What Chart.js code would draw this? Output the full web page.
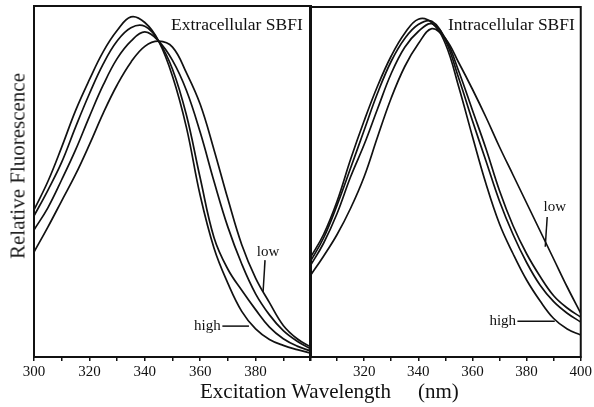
<!DOCTYPE html>
<html><head><meta charset="utf-8">
<script src="https://cdn.jsdelivr.net/npm/chart.js@4.4.0/dist/chart.umd.min.js"></script>
<style>
html,body{margin:0;padding:0;background:#fff;}
#wrap{position:relative;width:594px;height:407px;overflow:hidden;font-family:"Liberation Serif","DejaVu Serif",serif;color:#111;}
.cv{position:absolute;top:0;height:407px;}
.txt{position:absolute;white-space:nowrap;line-height:1;}
</style></head><body>
<div id="wrap">
<div class="cv" style="left:0;width:320px"><canvas id="c1"></canvas></div>
<div class="cv" style="left:300px;width:294px"><canvas id="c2"></canvas></div>
<div class="txt" id="ytitle" style="left:18px;top:166px;font-size:21px;color:#222;transform:translate(-50%,-50%) rotate(-90deg);">Relative Fluorescence</div>
<div class="txt" style="left:200px;top:381px;font-size:21px;">Excitation Wavelength</div>
<div class="txt" style="left:418px;top:381px;font-size:21px;">(nm)</div>
<div class="txt" style="left:171px;top:16px;font-size:17.5px;">Extracellular SBFI</div>
<div class="txt" style="left:448px;top:16px;font-size:17.5px;">Intracellular SBFI</div>
</div>
<script>
// wavelengths (nm)
const wavelengths = [300,305,310,315,320,325,330,335,340,345,350,355,360,365,370,375,380,385,390,395,400];

// Extracellular SBFI (left panel), high -> low Na+
const extHigh = [41.9,50,59.8,70.2,79,87,93,96.9,95.3,90,80,65.5,46,31,21,13,8,5,3.3,2.1,1.1];
const extMid1 = [40.2,47.5,55.5,65.5,75,83.5,90,93.8,94.2,90,82,69,51,34,25,19,13.5,8.5,5.2,3.1,1.7];
const extMid2 = [36.2,42.5,50.5,59,68.5,77.5,85,90,92.6,90,84.5,76,64,50,37,26.5,18,12,7.5,4.5,2.3];
const extLow  = [29.9,37,44.5,52,60.5,69.5,77.5,84,88.5,90,88.3,81,72,59,45,32,22.5,15.5,9,5.2,2.8];

// Intracellular SBFI (right panel)
const intHigh = [28.2,35,44.5,56.5,67.5,77.5,86,92.5,96.5,95.5,89.5,77,63,49.5,38,29.5,22,16,11,8,6.3];
const intMid1 = [27.1,34,43.4,54,64.8,75.5,84.5,91,95,95.9,90.5,79.5,67.5,56,44.5,35,27,20.5,15.8,12.5,10];
const intMid2 = [25.9,32.5,41,51.5,60.7,71,81,88.5,93,95.2,91,81.5,70.5,59.5,47.5,37.5,29.5,23,17.5,14,11.4];
const intLow  = [23.1,28.8,35,42.5,51.5,63,74,83,89.5,93.8,91,84,76.5,68.5,60,52,44,36,28,20,12.5];

// tick labels shown on each panel
const extTickLabels = [300,320,340,360,380];
const intTickLabels = [320,340,360,380,400];

// curve labels (in data units: label position, leader line from/to)
const extNotes = [
  {text:'low',  at:[384.5,29.9], line:[383.4,27.6,382.7,18.5]},
  {text:'high', at:[362.6,8.8],  line:[368.0,8.8,377.6,8.8]}
];
const intNotes = [
  {text:'low',  at:[390.4,42.7], line:[387.6,40.0,386.9,31.5]},
  {text:'high', at:[371.2,10.2], line:[376.6,10.2,390.4,10.2]}
];

const annoPlugin = {
  id:'anno',
  afterDatasetsDraw(chart, args, opts){
    const ctx = chart.ctx, x = chart.scales.x, y = chart.scales.y;
    ctx.save();
    ctx.strokeStyle = '#111';
    (opts.items||[]).forEach(a=>{
      ctx.lineWidth = 1.5;
      ctx.beginPath();
      ctx.moveTo(x.getPixelForValue(a.line[0]), y.getPixelForValue(a.line[1]));
      ctx.lineTo(x.getPixelForValue(a.line[2]), y.getPixelForValue(a.line[3]));
      ctx.stroke();
      ctx.font = '15px "Liberation Serif", serif';
      ctx.fillStyle = '#111';
      ctx.textAlign = 'center';
      ctx.textBaseline = 'middle';
      ctx.fillText(a.text, x.getPixelForValue(a.at[0]), y.getPixelForValue(a.at[1]));
    });
    const ca = chart.chartArea;
    ctx.lineWidth = 2;
    ctx.strokeRect(ca.left, ca.top, ca.right-ca.left, ca.bottom-ca.top);
    ctx.restore();
  }
};

function makeChart(id, series, tickLabels, notes, pad){
  return new Chart(document.getElementById(id), {
    type:'line',
    data:{datasets: series.map(s=>({
      data: s.map((v,i)=>({x: wavelengths[i], y: v})),
      borderColor:'#111', borderWidth:1.7, pointRadius:0,
      tension:0.4, fill:false
    }))},
    options:{
      responsive:true, maintainAspectRatio:false, animation:false,
      layout:{padding:pad},
      plugins:{legend:{display:false}, tooltip:{enabled:false}, anno:{items:notes}},
      scales:{
        x:{type:'linear', min:300, max:400,
           afterFit:s=>{s.height=50;},
           ticks:{stepSize:10, autoSkip:false, maxRotation:0,
                  callback:v=>tickLabels.includes(v)?String(v):'',
                  font:{family:'"Liberation Serif", serif', size:15}, color:'#111', padding:2},
           grid:{drawOnChartArea:false, drawTicks:true, tickLength:4, color:'#111', lineWidth:1.5},
           border:{display:true, color:'#111', width:2}},
        y:{display:false, min:0, max:100}
      }
    },
    plugins:[annoPlugin]
  });
}

makeChart('c1', [extHigh, extMid1, extMid2, extLow], extTickLabels, extNotes, {left:34, right:9, top:6, bottom:0});
makeChart('c2', [intHigh, intMid1, intMid2, intLow], intTickLabels, intNotes, {left:10, right:12, top:7, bottom:0});
</script>
</body></html>
